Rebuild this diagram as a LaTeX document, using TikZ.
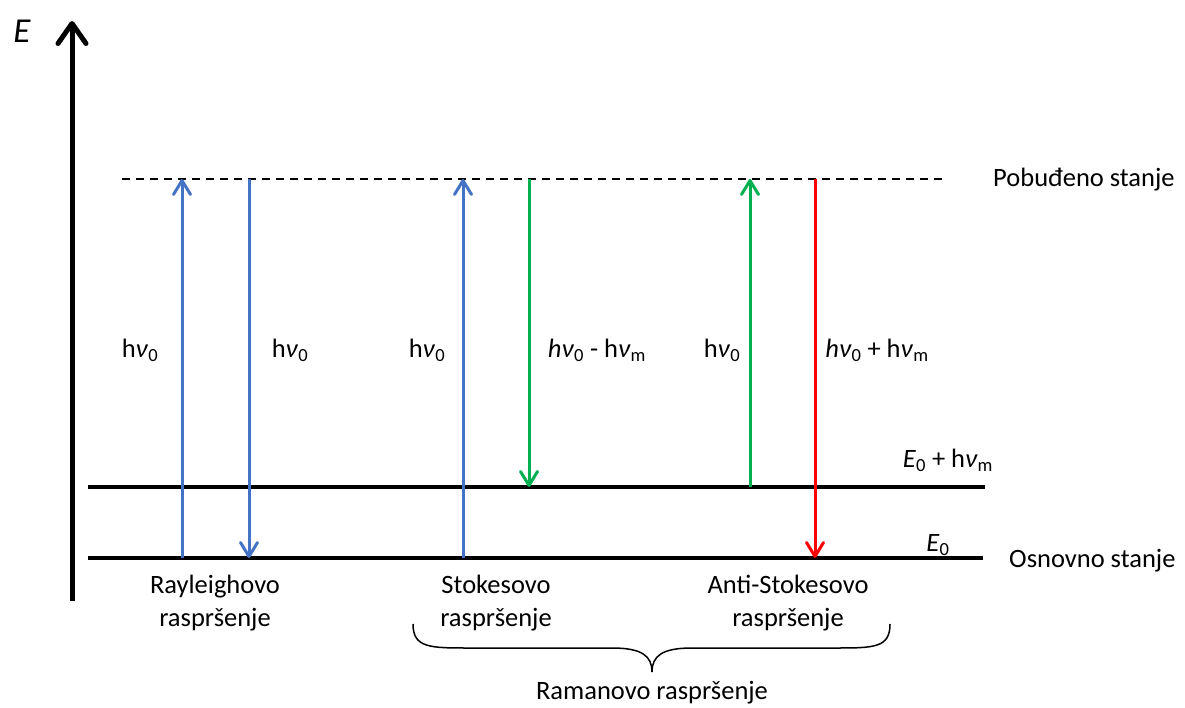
\documentclass[tikz,border=0pt]{standalone}
\usepackage{fontspec}
\setmainfont{Carlito}
\usetikzlibrary{arrows.meta}
\definecolor{offblue}{RGB}{68,114,196}
\definecolor{offgreen}{RGB}{0,176,80}
\definecolor{offred}{RGB}{255,0,0}
\newcommand{\nuit}{\textit{ν}}

\begin{document}
\begin{tikzpicture}[x=1pt,y=-1pt,font=\fontsize{26.5}{33}\selectfont,>={Straight Barb[length=14pt,width=17pt,round]},level/.style={line width=4pt},trans/.style={->, line width=3pt},lbl/.style={inner sep=0pt, align=center}]
\useasboundingbox (0,0) rectangle (1185,708);
\draw[line width=5pt, {Straight Barb[length=20pt,width=28pt,round]}-] (72,21) coordinate (axTop) -- (72,601) coordinate (axBot);\node[lbl, font=\fontsize{35}{40}\selectfont] (axE) at (22,31) {\textit{E}};
\coordinate (exL) at (122,179);\coordinate (exR) at (945,179);\draw[line width=1.5pt, dash pattern=on 8pt off 6pt] (exL) -- (exR);\node[lbl, anchor=west] (exLbl) at (993,180) {Pobuđeno stanje};
\coordinate (vibL) at (88,487);\coordinate (vibR) at (985,487);\draw[level] (vibL) -- (vibR);\node[lbl] (vibLbl) at (948,460) {\textit{E}\textsubscript{0} + h\nuit\textsubscript{m}};
\coordinate (grL) at (88,558);\coordinate (grR) at (983,558);\draw[level] (grL) -- (grR);\node[lbl] (grLbl) at (938,545) {\textit{E}\textsubscript{0}};\node[lbl, anchor=west] (grName) at (1009,561) {Osnovno stanje};
% Rayleigh
\draw[trans, offblue] (182,558) coordinate (rayA) -- (rayA |- exL);\draw[trans, offblue] (249,179) coordinate (rayB) -- (rayB |- grL);
\node[lbl] (rayAl) at (140,350) {h\nuit\textsubscript{0}};\node[lbl] (rayBl) at (290,350) {h\nuit\textsubscript{0}};
% Stokes
\draw[trans, offblue] (463,558) coordinate (stkA) -- (stkA |- exL);\draw[trans, offgreen] (529,179) coordinate (stkB) -- (stkB |- vibL);
\node[lbl] (stkAl) at (427,350) {h\nuit\textsubscript{0}};\node[lbl] (stkBl) at (597,350) {\textit{h\nuit}\textsubscript{0} - h\nuit\textsubscript{m}};
% Anti-Stokes
\draw[trans, offgreen] (750,487) coordinate (astA) -- (astA |- exL);\draw[trans, offred] (815,179) coordinate (astB) -- (astB |- grL);
\node[lbl] (astAl) at (722,350) {h\nuit\textsubscript{0}};\node[lbl] (astBl) at (877,350) {\textit{h\nuit}\textsubscript{0} + h\nuit\textsubscript{m}};
\node[lbl] (rayName) at (215,603) {Rayleighovo\\raspršenje};\node[lbl] (stkName) at (496,603) {Stokesovo\\raspršenje};\node[lbl] (astName) at (788,603) {Anti-Stokesovo\\raspršenje};
\coordinate (brL) at (413,624);\coordinate (brR) at (890,624);\coordinate (brTip) at (652,672);
\draw[line width=1.5pt] (brL) .. controls (413,648) and (430,648) .. (470,648) -- (612,648) .. controls (642,648) and (652,656) .. (brTip) .. controls (652,656) and (662,648) .. (692,648) -- (834,648) .. controls (874,648) and (890,648) .. (brR);
\node[lbl] (ramName) at (652,693) {Ramanovo raspršenje};
\end{tikzpicture}
\end{document}
